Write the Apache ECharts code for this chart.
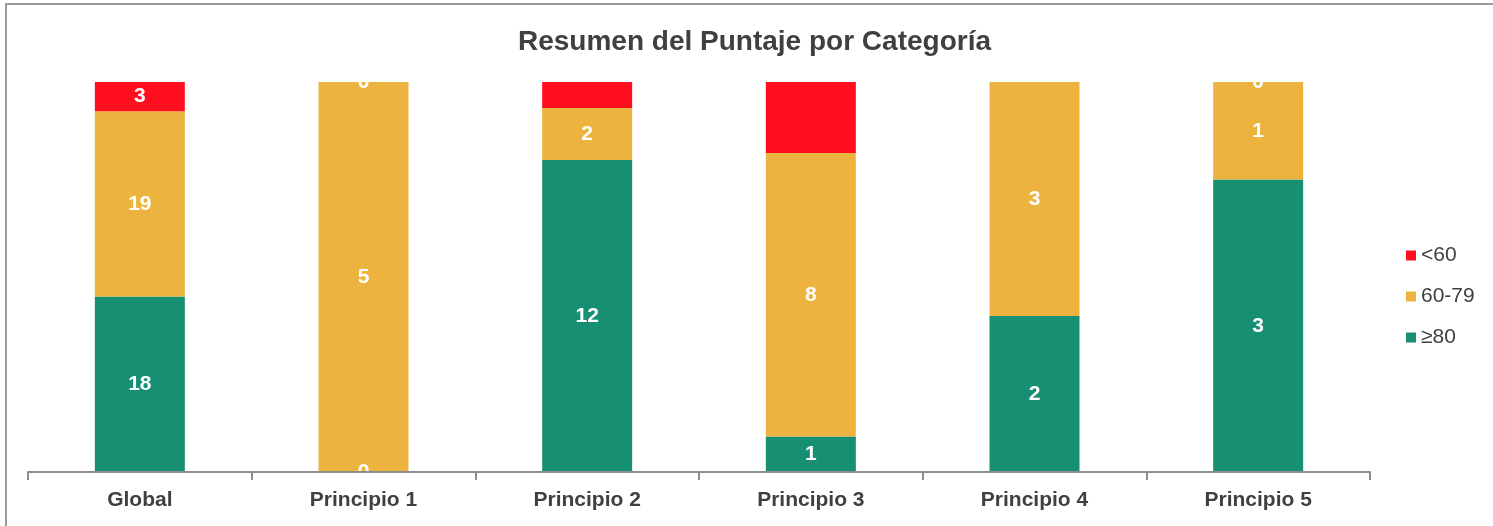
<!DOCTYPE html>
<html>
<head>
<meta charset="utf-8">
<script src="https://cdn.jsdelivr.net/npm/echarts@6/dist/echarts.min.js"></script>
<style>
  html, body { margin: 0; padding: 0; background: #fff; }
  #chart { width: 1493px; height: 526px; }
  .frame {
    position: absolute; left: 5px; top: 3px; right: -10px; bottom: -10px;
    border-top: 2px solid #999; border-left: 2px solid #999;
    pointer-events: none;
  }
</style>
</head>
<body>
<div id="chart"></div>
<div class="frame"></div>
<script>
const categories = ["Global", "Principio 1", "Principio 2", "Principio 3", "Principio 4", "Principio 5"];
const alto = [18, 0, 12, 1, 2, 3];      // ≥80
const medio = [19, 5, 2, 8, 3, 1];      // 60-79
const bajo = [3, 0, 1, 2, 0, 0];        // <60
// etiquetas que no aparecen en el original
const bajoSinEtiqueta = [2, 3, 4];
const altoSinEtiqueta = [2, 3, 4, 5].filter(i => alto[i] === 0);

const totals = categories.map((c, i) => alto[i] + medio[i] + bajo[i]);

function toPct(arr, hidden) {
  return arr.map((v, i) => {
    let item = { value: totals[i] ? (v / totals[i]) * 100 : 0, raw: v };
    if (hidden && hidden.includes(i)) item.label = { show: false };
    return item;
  });
}

let myChart = echarts.init(document.getElementById("chart"));

let fuente = "Liberation Sans, Arial, sans-serif";
let labelStyle = {
  show: true,
  color: "#fff",
  fontWeight: "bold",
  fontSize: 21,
  fontFamily: fuente,
  formatter: p => p.data.raw,
};

myChart.setOption({
  animation: false,
  title: {
    text: "Resumen del Puntaje por Categoría",
    left: 513,
    top: 23,
    z: 100,
    textStyle: {
      fontSize: 28,
      fontWeight: "bold",
      color: "#404040",
      fontFamily: fuente,
    },
  },
  grid: { left: 28, right: 123, top: 82, bottom: 54 },
  legend: {
    orient: "vertical",
    left: 1401,
    top: 240,
    itemWidth: 10,
    itemHeight: 10,
    itemGap: 20,
    icon: "rect",
    data: ["<60", "60-79", "≥80"],
    textStyle: {
      fontSize: 21,
      color: "#404040",
      fontFamily: fuente,
    },
  },
  xAxis: {
    type: "category",
    data: categories,
    z: 60,
    axisLine: { lineStyle: { color: "#8c8c8c", width: 2 } },
    axisTick: { show: true, length: 8, lineStyle: { color: "#8c8c8c", width: 2 } },
    axisLabel: {
      fontSize: 21,
      fontWeight: "bold",
      color: "#404040",
      margin: 18,
      fontFamily: fuente,
    },
  },
  yAxis: {
    type: "value",
    min: 0,
    max: 100,
    show: false,
    splitLine: { show: false },
  },
  graphic: [
    // tapa la mitad de las etiquetas "0" que se salen del área
    { type: "rect", z: 50, shape: { x: 0, y: 62, width: 1493, height: 20 }, style: { fill: "#fff" } },
    { type: "rect", z: 50, shape: { x: 0, y: 473, width: 1493, height: 20 }, style: { fill: "#fff" } },
  ],
  series: [
    {
      name: "≥80",
      type: "bar",
      stack: "total",
      barWidth: 90,
      itemStyle: { color: "#168f72" },
      label: labelStyle,
      data: toPct(alto, altoSinEtiqueta),
    },
    {
      name: "60-79",
      type: "bar",
      stack: "total",
      barWidth: 90,
      itemStyle: { color: "#ecb43e" },
      label: labelStyle,
      data: toPct(medio),
    },
    {
      name: "<60",
      type: "bar",
      stack: "total",
      barWidth: 90,
      itemStyle: { color: "#ff0e1f" },
      label: labelStyle,
      data: toPct(bajo, bajoSinEtiqueta),
    },
  ],
});
</script>
</body>
</html>
